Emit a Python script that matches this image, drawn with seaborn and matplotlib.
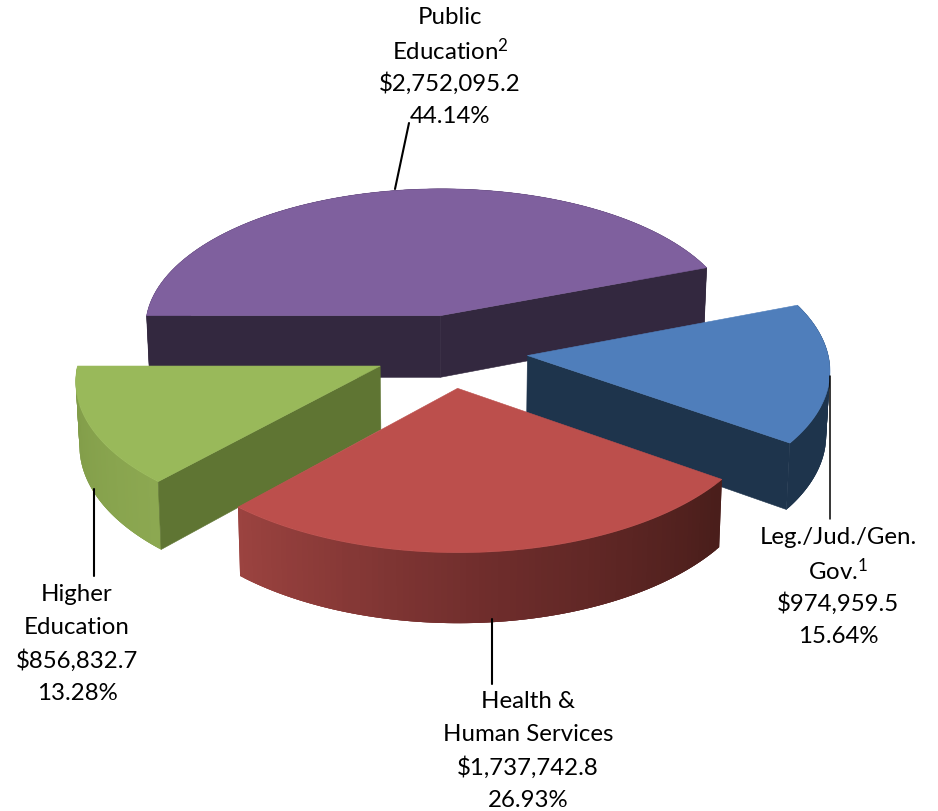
# Exploded 3D style pie, budget shares

import numpy as np
import seaborn as sns
import matplotlib.pyplot as plt

categories = ["Public\nEducation$^{2}$", "Leg./Jud./Gen.\nGov.$^{1}$", "Health &\nHuman Services", "Higher\nEducation"]
dollars = ["$2,752,095.2", "$974,959.5", "$1,737,742.8", "$856,832.7"]
shares = [44.14, 15.64, 26.93, 13.28]

top_colors = ["#7F609E", "#4F7EBB", "#BC4F4C", "#99B95A"]
cut_colors = ["#33283F", "#1E344C", "#4F1F1C", "#5F7533"]
arc_colors = [["#33283F", "#33283F"], ["#1E344C", "#1E344C"],
              ["#9C4340", "#6F2D2C", "#4A1E1B"], ["#7F9A47", "#8CA851"]]

# which cut faces show: 0 = first edge, -1 = last edge
cut_faces = [[0, -1], [-1], [], [0]]
nudge_x = [3, 0, -2, 0]

# where the labels and leader lines sit, in pixels
label_pos = [(450, 18), (838, 538), (528, 702), (77, 595)]
leaders = [((409, 124), (395, 190), 1.5), ((830, 377), (830, 520), 1.1),
           ((492, 620), (492, 685), 1.5), ((94, 490), (94, 577), 1.5)]
line_step = 32.7

# perspective camera
cx, cy = 451, 352
scale_x, horizon, persp = 300, 1676, 0.0856
explode = 0.256
depth = 63
shrink = 0.99


def project(X, Y):
    s = 1 / (1 + persp * Y)
    return cx + scale_x * X * s, cy + horizon * (s - 1), depth * s


def base_x(x):
    return cx + (x - cx) * shrink


sns.set_theme(style="white")
plt.rcParams["font.family"] = ["Lato", "DejaVu Sans"]
plt.rcParams["mathtext.fontset"] = "custom"
plt.rcParams["mathtext.rm"] = "Lato"
plt.rcParams["mathtext.default"] = "rm"

fig = plt.figure(figsize=(9.38, 8.12), dpi=100)
ax = fig.add_axes([0, 0, 1, 1])
ax.set_xlim(0, 938)
ax.set_ylim(812, 0)
ax.axis("off")

# slices run clockwise from the left
edges = 180 - np.cumsum([0] + shares) * 360 / sum(shares)
slices = []
for i in range(len(shares)):
    a0, a1 = edges[i], edges[i + 1]
    mid = np.radians((a0 + a1) / 2)
    ox, oy = explode * np.cos(mid), explode * np.sin(mid)
    t = np.radians(np.linspace(a0, a1, 90))
    slices.append((ox, oy, t))

for i in [0, 1, 3, 2]:
    ox, oy, t = slices[i]
    xa, ya, da = project(ox + np.cos(t), oy + np.sin(t))
    x0, y0, d0 = project(np.array([ox]), np.array([oy]))
    xa = xa + nudge_x[i]
    x0 = x0 + nudge_x[i]
    xb = base_x(xa)
    xb0 = base_x(x0)

    # rim, strips overlap their neighbours so no seams show
    n = len(t)
    strip = sns.blend_palette(arc_colors[i], n_colors=n - 1)
    ranks = np.argsort(np.argsort(xa[:-1]))
    for j in np.argsort(xa[:-1]):
        k = min(j + 2, n - 1)
        m = max(j - 1, 0)
        ax.fill([xa[m], xa[j], xa[k], xb[k], xb[j], xb[m]],
                [ya[m], ya[j], ya[k], ya[k] + da[k], ya[j] + da[j], ya[m] + da[m]],
                color=strip[ranks[j]], lw=0, zorder=1)

    # cut faces
    for k in cut_faces[i]:
        ax.fill([x0[0], xa[k], xb[k], xb0[0]],
                [y0[0], ya[k], ya[k] + da[k], y0[0] + d0[0]],
                color=cut_colors[i], lw=0.4, zorder=1)

    # top
    ax.fill(np.r_[x0, xa], np.r_[y0, ya], color=top_colors[i], lw=0.4, zorder=1)

for a, b, w in leaders:
    ax.plot([a[0], b[0]], [a[1], b[1]], color="black", lw=w, zorder=2)

for name, dollar, share, pos in zip(categories, dollars, shares, label_pos):
    lines = name.split("\n") + [dollar.replace("$", r"\$"), f"{share:.2f}%"]
    for n, line in enumerate(lines):
        ax.text(pos[0], pos[1] + n * line_step, line, ha="center", va="center",
                fontsize=17.3, color="black", zorder=3)

fig.savefig("out.png", dpi=100)
